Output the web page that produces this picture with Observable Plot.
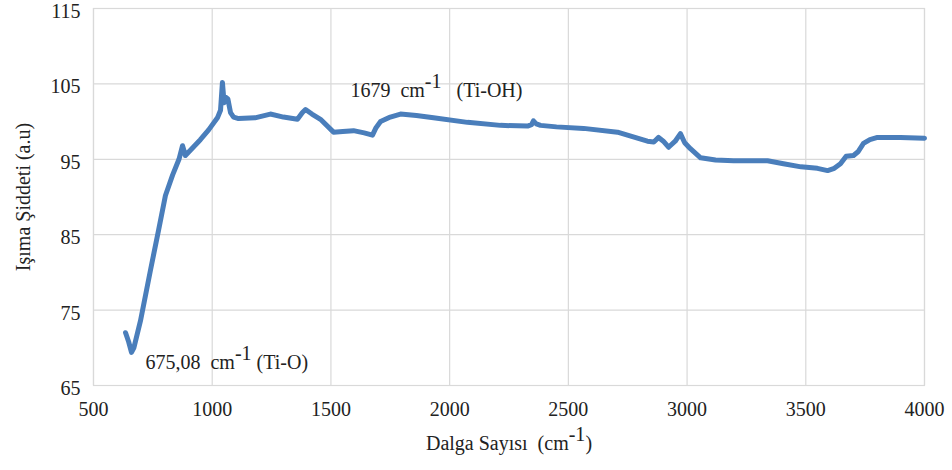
<!DOCTYPE html>
<html><head><meta charset="utf-8">
<script src="https://cdn.jsdelivr.net/npm/d3@7"></script>
<script src="https://cdn.jsdelivr.net/npm/@observablehq/plot@0.6"></script>
<style>
body{margin:0;background:#fff}
svg text{white-space:pre}
</style>
</head><body><div id="chart"></div>
<script>
const wavenumber=[635,648,660,670,698,740,774,803,833,860,875,887,920,950,985,1022,1035,1043,1050,1058,1066,1077,1090,1111,1180,1245,1300,1359,1380,1393,1420,1456,1511,1550,1595,1640,1675,1690,1709,1750,1793,1860,1932,2075,2214,2328,2345,2353,2365,2383,2450,2564,2707,2833,2860,2880,2900,2922,2950,2972,2990,3014,3057,3120,3196,3339,3406,3480,3549,3592,3620,3646,3670,3701,3720,3743,3770,3802,3899,4000];
const intensity=[72.0,70.8,69.4,70.0,73.6,80.3,85.6,90.2,92.9,95.0,96.8,95.5,96.6,97.6,98.9,100.5,101.5,105.2,102.5,103.2,103.0,101.2,100.6,100.4,100.5,101.0,100.6,100.3,101.2,101.6,101.0,100.3,98.6,98.7,98.8,98.5,98.2,99.2,100.0,100.6,101.0,100.8,100.5,99.9,99.5,99.4,99.6,100.1,99.7,99.5,99.3,99.1,98.6,97.4,97.3,97.9,97.4,96.6,97.4,98.4,97.2,96.4,95.2,94.9,94.8,94.8,94.4,94.0,93.8,93.5,93.8,94.4,95.4,95.5,96.0,97.1,97.6,97.9,97.9,97.8];
const xTicks=[500,1000,1500,2000,2500,3000,3500,4000];
const yTicks=[65,75,85,95,105,115];
const annoX=[719,1582];
const annoY=[68.05,104.1];
const annoText=["675,08  cm^-1 (Ti-O)","1679  cm^-1   (Ti-OH)"];
const xLabel="Dalga Sayısı  (cm^-1)";
const yLabel="Işıma Şiddeti (a.u)";

const serif="'Liberation Serif', 'DejaVu Serif', 'Times New Roman', serif";
const chart=Plot.plot({
  width:952,height:470,
  marginTop:8,marginBottom:85,marginLeft:93,marginRight:28,
  style:{fontSize:"20px",color:"#222",background:"#fff"},
  x:{domain:[500,4000]},
  y:{domain:[65,115]},
  marks:[
    Plot.gridX(xTicks,{stroke:"#d9d9d9",strokeOpacity:1,strokeWidth:1.2}),
    Plot.gridY(yTicks,{stroke:"#d9d9d9",strokeOpacity:1,strokeWidth:1.2}),
    Plot.frame({stroke:"#d9d9d9",strokeWidth:1.2}),
    Plot.axisX(xTicks,{tickSize:0,tickPadding:16,tickFormat:d=>String(d),label:xLabel,labelAnchor:"center",labelArrow:"none",labelOffset:64,fontSize:20}),
    Plot.axisY(yTicks,{tickSize:0,tickPadding:13,dy:3,tickFormat:d=>String(d),label:yLabel,labelAnchor:"center",labelArrow:"none",labelOffset:78,fontSize:20}),
    Plot.line(wavenumber,{x:d=>d,y:(d,i)=>intensity[i],stroke:"#4a7ebb",strokeWidth:5,strokeLinejoin:"round",strokeLinecap:"round"}),
    Plot.text(annoText,{x:(d,i)=>annoX[i],y:(d,i)=>annoY[i],text:d=>d,textAnchor:"start",fontSize:20,fill:"#222"})
  ]
});
document.getElementById("chart").appendChild(chart);

d3.select(chart).selectAll("g").attr("font-family",null);
d3.select(chart).attr("font-family",null).style("font-family",serif);

// render "^-1" as superscript
d3.select(chart).selectAll("text").each(function(){
  this.setAttribute("font-family",serif);
  this.style.fontFamily=serif;
  const t=this.textContent;
  if(this.children.length===0 && t.includes("^-1")){
    const [a,b]=t.split("^-1");
    const sel=d3.select(this);
    sel.text(null);
    sel.append("tspan").text(a);
    sel.append("tspan").attr("dy","-0.45em").text("-1");
    sel.append("tspan").attr("dy","0.45em").text(b);
  }
});
</script>
</body></html>
